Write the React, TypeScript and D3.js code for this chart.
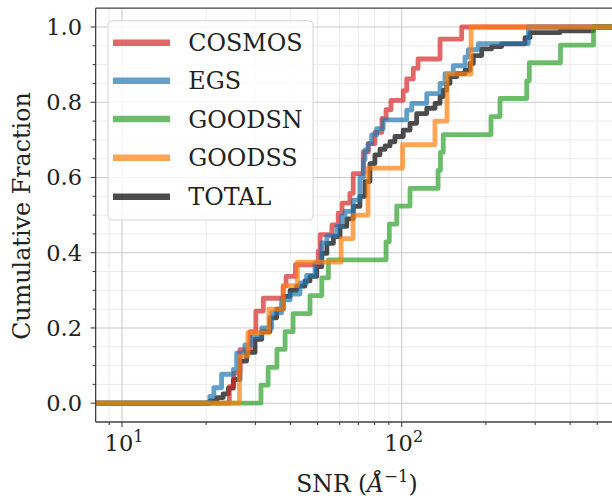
import React from 'react';
import * as d3 from 'd3';

// ---- data ----
const seriesNames = ['COSMOS', 'EGS', 'GOODSN', 'GOODSS', 'TOTAL'];

const cosmosSnr = [24.2, 25.1, 26.4, 28.7, 30.1, 32.0, 37.7, 38.6, 41.7, 50.3, 51.1, 56.3, 59.3, 61.2, 65.3, 67.1, 72.9, 76.0, 80.2, 85.0, 87.9, 91.6, 101.3, 104.2, 110.0, 114.4, 137.1, 163.9];
const cosmosFrac = [0.044, 0.08, 0.142, 0.19, 0.245, 0.279, 0.311, 0.337, 0.368, 0.404, 0.448, 0.474, 0.505, 0.532, 0.558, 0.61, 0.668, 0.69, 0.72, 0.757, 0.78, 0.805, 0.831, 0.862, 0.89, 0.915, 0.968, 1.0];

const egsSnr = [20.6, 21.3, 22.7, 25.0, 25.7, 27.5, 29.1, 31.6, 34.3, 37.2, 39.9, 43.3, 45.7, 49.0, 51.8, 54.0, 58.6, 61.0, 62.7, 67.1, 70.9, 72.9, 73.9, 75.8, 78.1, 81.4, 85.9, 104.2, 108.6, 122.9, 137.1, 142.8, 152.9, 168.4, 173.0, 187.9, 283.6];
const egsFrac = [0.018, 0.041, 0.077, 0.09, 0.133, 0.155, 0.177, 0.2, 0.24, 0.275, 0.29, 0.32, 0.34, 0.373, 0.426, 0.445, 0.47, 0.497, 0.51, 0.54, 0.6, 0.647, 0.673, 0.69, 0.713, 0.73, 0.753, 0.779, 0.797, 0.823, 0.85, 0.876, 0.897, 0.92, 0.94, 0.956, 1.0];

const goodsnSnr = [31.4, 33.3, 35.8, 38.3, 40.9, 47.0, 51.8, 54.7, 87.9, 90.3, 96.0, 107.1, 134.9, 137.6, 140.8, 208.6, 224.6, 279.9, 285.9, 369.6, 485.1];
const goodsnFrac = [0.048, 0.095, 0.143, 0.19, 0.238, 0.286, 0.333, 0.381, 0.429, 0.476, 0.524, 0.571, 0.619, 0.667, 0.714, 0.762, 0.81, 0.857, 0.905, 0.952, 1.0];

const goodssSnr = [26.3, 28.2, 33.5, 37.7, 42.4, 60.7, 67.0, 75.8, 100.7, 131.5, 145.2, 177.0];
const goodssFrac = [0.125, 0.1875, 0.25, 0.3125, 0.375, 0.4375, 0.5, 0.625, 0.6875, 0.75, 0.875, 1.0];

const totalSnr = [20.6, 21.8, 23.0, 24.0, 25.0, 26.4, 27.9, 29.9, 31.6, 33.8, 35.7, 37.7, 39.9, 42.1, 45.1, 47.0, 49.7, 51.8, 54.0, 57.0, 60.2, 63.6, 67.1, 70.9, 73.9, 77.0, 80.2, 83.6, 87.2, 90.8, 94.6, 101.3, 107.1, 113.1, 122.9, 131.6, 137.1, 140.8, 144.8, 148.8, 157.3, 168.4, 175.5, 180.3, 193.2, 209.8, 227.8, 276.0, 287.6, 368.1, 484.2];
const totalFrac = [0.006, 0.015, 0.025, 0.04, 0.063, 0.112, 0.135, 0.17, 0.19, 0.227, 0.25, 0.284, 0.3, 0.311, 0.325, 0.337, 0.363, 0.398, 0.425, 0.443, 0.47, 0.49, 0.523, 0.55, 0.589, 0.637, 0.66, 0.675, 0.684, 0.695, 0.709, 0.726, 0.744, 0.77, 0.784, 0.797, 0.815, 0.832, 0.85, 0.868, 0.876, 0.885, 0.903, 0.924, 0.942, 0.948, 0.955, 0.972, 0.985, 0.99, 1.0];

const yTicks = [0, 0.2, 0.4, 0.6, 0.8, 1.0];
const yTickLabels = ['0.0', '0.2', '0.4', '0.6', '0.8', '1.0'];
const xMajorTicks = [10, 100];
const xMajorExp = ['1', '2'];

// ---- layout ----
const W = 612;
const H = 498;
const FONT = "'DejaVu Serif', serif";

const seriesColors: Record<string, string> = {
  COSMOS: '#d62728',
  EGS: '#1f77b4',
  GOODSN: '#2ca02c',
  GOODSS: '#ff7f0e',
  TOTAL: '#000000',
};

const seriesData: Record<string, [number[], number[]]> = {
  COSMOS: [cosmosSnr, cosmosFrac],
  EGS: [egsSnr, egsFrac],
  GOODSN: [goodsnSnr, goodsnFrac],
  GOODSS: [goodssSnr, goodssFrac],
  TOTAL: [totalSnr, totalFrac],
};

const drawOrder = ['TOTAL', 'COSMOS', 'EGS', 'GOODSN', 'GOODSS'];

export default function App() {
  const x = d3.scaleLog().domain([8.05, 600]).range([95.65, 619.35]);
  const y = d3.scaleLinear().domain([-0.05, 1.05]).range([422, 8.2]);
  const [x0, x1] = x.range();
  const [yb, yt] = y.range();
  const [dMin, dMax] = x.domain();

  const line = d3
    .line<[number, number]>()
    .x((d) => x(d[0]))
    .y((d) => y(d[1]))
    .curve(d3.curveStepAfter);

  const xMinor: number[] = [];
  for (const dec of [1, 10, 100]) {
    for (let k = 2; k <= 9; k++) {
      const v = dec * k;
      if (v >= dMin && v <= dMax && !xMajorTicks.includes(v)) xMinor.push(v);
    }
  }
  const yMinor = d3.range(0, 21).map((i) => i * 0.05).filter((v) => !yTicks.some((t) => Math.abs(t - v) < 1e-9));

  const legendRows = [42.7, 80.7, 119, 157.7, 196.7];

  return (
    <svg width={W} height={H} style={{ position: 'absolute', left: 0, top: 0, background: '#fff' }} fontFamily={FONT}>
      <rect x={0} y={0} width={W} height={H} fill="#fff" />
      <defs>
        <clipPath id="plotclip">
          <rect x={x0} y={yt} width={x1 - x0} height={yb - yt} />
        </clipPath>
      </defs>
      {/* minor grid */}
      <g stroke="#ebebeb" strokeWidth={1}>
        {xMinor.map((v) => (
          <line key={'xm' + v} x1={x(v)} x2={x(v)} y1={yt} y2={yb} />
        ))}
        {yMinor.map((v) => (
          <line key={'ym' + v} x1={x0} x2={x1} y1={y(v)} y2={y(v)} />
        ))}
      </g>
      {/* major grid */}
      <g stroke="#cbcbcb" strokeWidth={1.1}>
        {xMajorTicks.map((v) => (
          <line key={'xg' + v} x1={x(v)} x2={x(v)} y1={yt} y2={yb} />
        ))}
        {yTicks.map((v) => (
          <line key={'yg' + v} x1={x0} x2={x1} y1={y(v)} y2={y(v)} />
        ))}
      </g>
      {/* series */}
      <g clipPath="url(#plotclip)" fill="none" strokeLinejoin="round" strokeLinecap="butt">
        {drawOrder.map((name) => {
          const [sx, sf] = seriesData[name];
          const pts: [number, number][] = [[dMin, 0], ...sx.map((s, i) => [s, sf[i]] as [number, number]), [dMax, sf[sf.length - 1]]];
          return (
            <path key={name} d={line(pts) || ''} stroke={seriesColors[name]} strokeOpacity={0.7} strokeWidth={4.8} />
          );
        })}
      </g>
      {/* spines */}
      <g stroke="#404040" strokeWidth={1.3} fill="none">
        <line x1={x0} x2={x0} y1={yt} y2={yb} />
        <line x1={x0} x2={x1} y1={yb} y2={yb} />
        <line x1={x0} x2={x1} y1={yt} y2={yt} />
      </g>
      {/* ticks */}
      <g stroke="#404040" strokeWidth={1.1}>
        {yTicks.map((v) => (
          <line key={'yt' + v} x1={x0 - 5} x2={x0} y1={y(v)} y2={y(v)} />
        ))}
        {yMinor.map((v) => (
          <line key={'ytm' + v} x1={x0 - 3} x2={x0} y1={y(v)} y2={y(v)} />
        ))}
        {xMajorTicks.map((v) => (
          <line key={'xt' + v} x1={x(v)} x2={x(v)} y1={yb} y2={yb + 5} />
        ))}
        {xMinor.map((v) => (
          <line key={'xtm' + v} x1={x(v)} x2={x(v)} y1={yb} y2={yb + 3} />
        ))}
      </g>
      <g fontSize={22.5} fill="#222">
        {yTicks.map((v, i) => (
          <text key={'yl' + v} x={82} y={y(v) + 8} textAnchor="end">
            {yTickLabels[i]}
          </text>
        ))}
        {xMajorTicks.map((v, i) => (
          <text key={'xl' + v} x={x(v) + 2} y={451} textAnchor="middle">
            10
            <tspan dy={-9} fontSize={16}>
              {xMajorExp[i]}
            </tspan>
          </text>
        ))}
      </g>
      {/* axis labels */}
      <text x={357} y={491.5} fontSize={23.5} textAnchor="middle" fill="#222">
        SNR (<tspan fontStyle="italic">Å</tspan>
        <tspan dy={-9.5} fontSize={16.5}>−1</tspan>
        <tspan dy={9.5}>)</tspan>
      </text>
      <text transform={`translate(30,216) rotate(-90)`} fontSize={23.8} textAnchor="middle" fill="#222">
        Cumulative Fraction
      </text>
      {/* legend */}
      <g>
        <rect x={108} y={20.7} width={205} height={199.3} rx={4} fill="#fff" fillOpacity={0.8} stroke="#d6d6d6" strokeWidth={1} />
        {seriesNames.map((name, i) => (
          <g key={'lg' + name}>
            <line x1={113} x2={170} y1={legendRows[i]} y2={legendRows[i]} stroke={seriesColors[name]} strokeOpacity={0.7} strokeWidth={6.5} />
            <text x={188.3} y={legendRows[i] + 8.5} fontSize={23.8} fill="#222">
              {name}
            </text>
          </g>
        ))}
      </g>
    </svg>
  );
}
